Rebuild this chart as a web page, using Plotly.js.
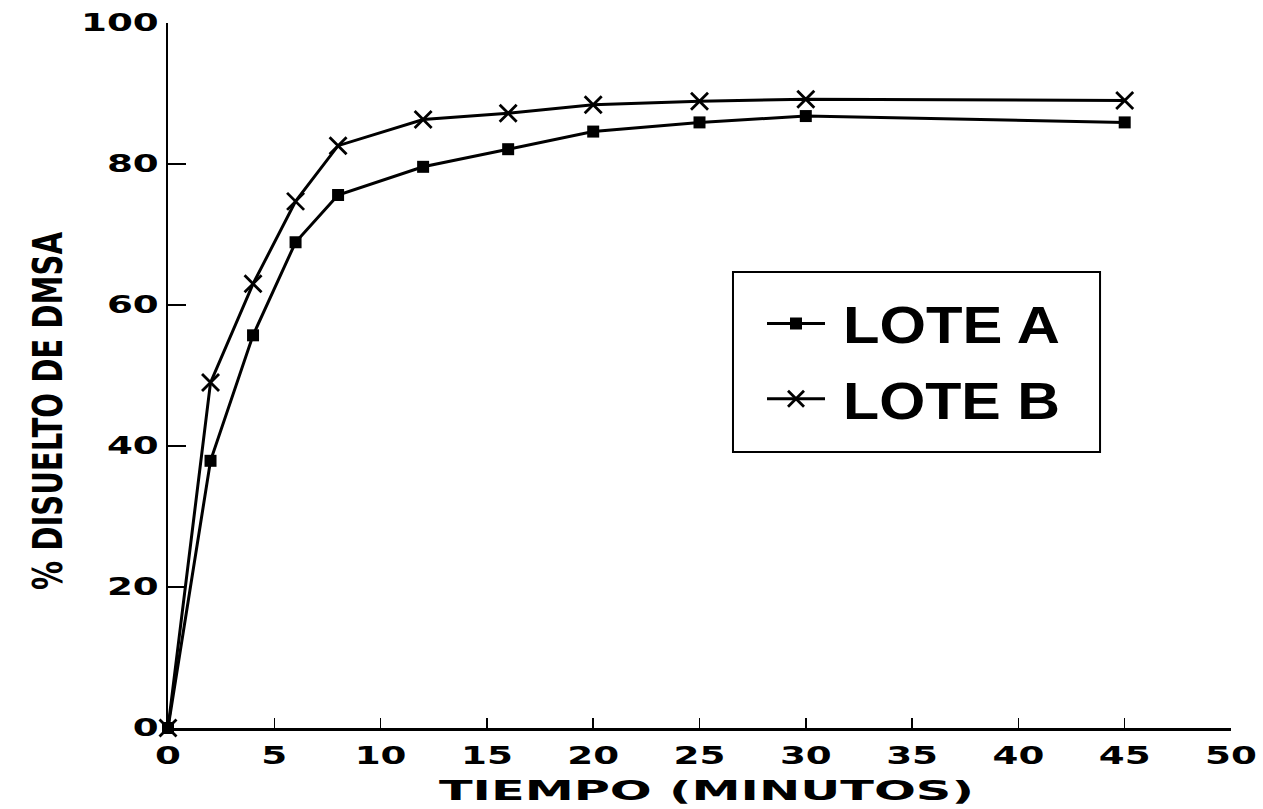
<!DOCTYPE html>
<html>
<head>
<meta charset="utf-8">
<script src="https://cdn.plot.ly/plotly-3.0.1.min.js"></script>
<style>
  html, body { margin: 0; padding: 0; background: #fff; }
  #chart { width: 1263px; height: 809px; }
</style>
</head>
<body>
<div id="chart"></div>
<script>
// Dissolution profile of DMSA, two batches
const tiempo = [0, 2, 4, 6, 8, 12, 16, 20, 25, 30, 45];          // minutes
const loteA  = [0, 37.9, 55.7, 68.9, 75.6, 79.6, 82.1, 84.6, 85.9, 86.8, 85.9];
const loteB  = [0, 49.0, 63.0, 74.7, 82.6, 86.3, 87.2, 88.4, 88.9, 89.2, 89.0];
const nombres = ['LOTE A', 'LOTE B'];
const xTicks = [0, 5, 10, 15, 20, 25, 30, 35, 40, 45, 50];
const yTicks = [0, 20, 40, 60, 80, 100];
const tituloX = 'TIEMPO (MINUTOS)';
const tituloY = '% DISUELTO DE DMSA';

const tickFont = { family: 'DejaVu Sans', size: 24, color: '#000', weight: 'bold' };

const traces = [
  {
    x: tiempo, y: loteA, name: nombres[0], legendgroup: 'a',
    mode: 'lines+markers', cliponaxis: false,
    line: { color: '#000', width: 3 },
    marker: { symbol: 'square', size: 12, color: '#000' }
  },
  {
    x: tiempo, y: loteB, name: nombres[1], legendgroup: 'b',
    mode: 'lines+markers', cliponaxis: false,
    line: { color: '#000', width: 3 },
    marker: { symbol: 'x-thin', size: 17, color: '#000', line: { color: '#000', width: 2.8 } }
  }
];

const layout = {
  width: 1263, height: 809,
  paper_bgcolor: '#fff', plot_bgcolor: '#fff',
  margin: { l: 168, r: 32, t: 23, b: 81 },
  showlegend: true,
  legend: {
    x: 0.5588, y: 0.63, xanchor: 'left', yanchor: 'top',
    bgcolor: 'rgba(0,0,0,0)', borderwidth: 0,
    font: { family: 'Liberation Sans', size: 51, color: '#000', weight: 'bold' },
    itemwidth: 58, traceorder: 'grouped', tracegroupgap: 6
  },
  xaxis: {
    range: [0, 50], tickvals: xTicks, ticktext: xTicks.map(String),
    showgrid: false, zeroline: false,
    showline: true, linecolor: '#000', linewidth: 2.5,
    ticks: 'inside', ticklen: 10, tickwidth: 1.5, tickcolor: '#000',
    tickfont: tickFont, ticklabelstandoff: 5
  },
  yaxis: {
    range: [0, 100], tickvals: yTicks, ticktext: yTicks.map(String),
    showgrid: false, zeroline: false,
    showline: true, linecolor: '#000', linewidth: 2.5,
    ticks: 'inside', ticklen: 18, tickwidth: 1.5, tickcolor: '#000',
    tickfont: tickFont, ticklabelstandoff: 2
  },
  shapes: [
    // frame around the key
    { type: 'rect', xref: 'paper', yref: 'paper',
      x0: 0.5315, x1: 0.8768, y0: 0.3915, y1: 0.6468,
      line: { color: '#000', width: 2 }, fillcolor: 'rgba(0,0,0,0)' }
  ],
  annotations: [
    { text: tituloY, textangle: -90, showarrow: false,
      xref: 'paper', yref: 'paper', x: 0, y: 0.4496,
      xanchor: 'center', yanchor: 'middle', xshift: -120,
      font: { family: 'DejaVu Sans', size: 40, color: '#000', weight: 'bold' } },
    { text: tituloX, showarrow: false,
      xref: 'paper', yref: 'paper', x: 0.507, y: 0,
      xanchor: 'center', yanchor: 'middle', yshift: -62,
      font: { family: 'DejaVu Sans', size: 27, color: '#000', weight: 'bold' } }
  ]
};

// Widen / narrow the lettering to the proportions of the printed typeface
function setLength(selector, fn) {
  document.querySelectorAll(selector).forEach(t => {
    const w = t.getComputedTextLength();
    t.setAttribute('textLength', fn(w).toFixed(1));
    t.setAttribute('lengthAdjust', 'spacingAndGlyphs');
  });
}

Plotly.newPlot('chart', traces, layout, { staticPlot: true }).then(() => {
  setLength('.xtick text', w => w * 1.55);
  setLength('.ytick text', w => w * 1.55);
  const notas = document.querySelectorAll('.annotation-text');
  notas.forEach(t => {
    const target = t.textContent === tituloY ? 358 : 535;
    t.setAttribute('textLength', target);
    t.setAttribute('lengthAdjust', 'spacingAndGlyphs');
  });
  // legend labels: a little more room after the key, and no clipping of the wider text
  document.querySelectorAll('.legend [clip-path]').forEach(el => el.removeAttribute('clip-path'));
  document.querySelectorAll('.legendtext').forEach(t => {
    t.setAttribute('x', (parseFloat(t.getAttribute('x')) || 0) + 13);
  });
  setLength('.legendtext', () => 217);
});
</script>
</body>
</html>
